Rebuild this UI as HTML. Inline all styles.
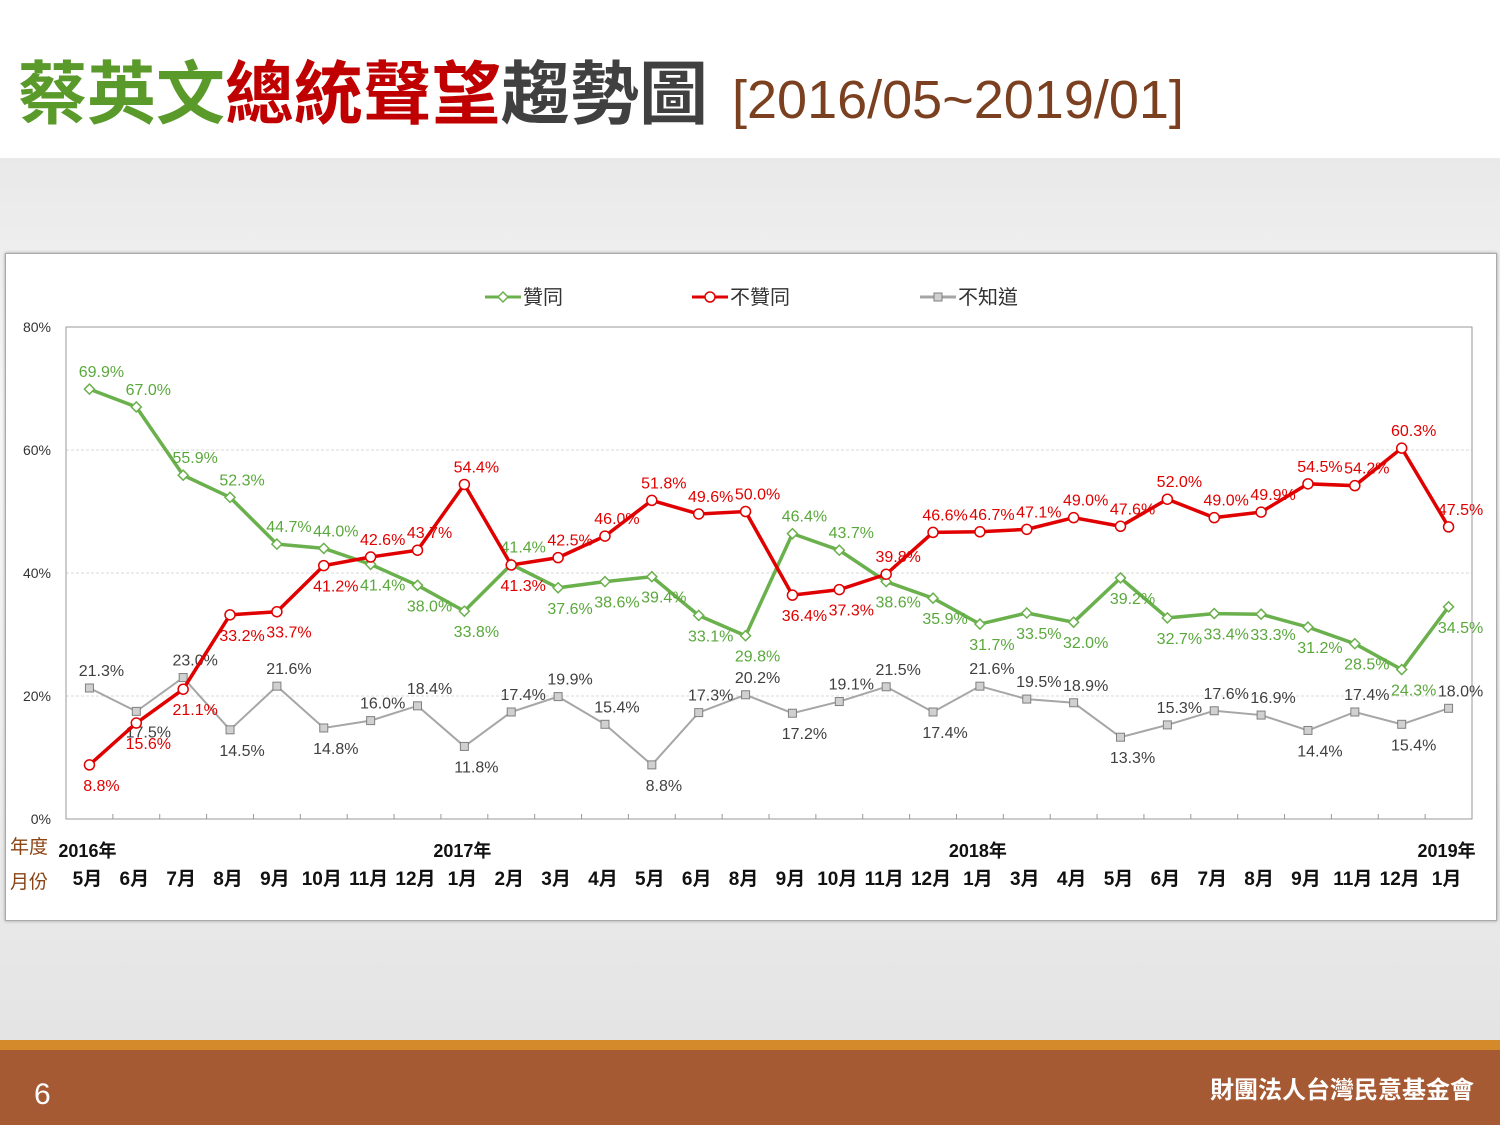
<!DOCTYPE html>
<html><head><meta charset="utf-8">
<style>
body{margin:0;width:1500px;height:1125px;position:relative;overflow:hidden;background:#fff;font-family:"Liberation Sans","Noto Sans CJK TC",sans-serif;}
#band{position:absolute;left:0;top:158px;width:1500px;height:882px;background:linear-gradient(#e9e9e9,#f7f7f7 30%,#ededed 70%,#e4e4e4);}
#title{position:absolute;left:18px;top:38px;font-size:69px;font-weight:bold;white-space:nowrap;font-family:"Liberation Sans","Noto Sans CJK TC",sans-serif;}
#title .d{font-size:54px;color:#7b4020;font-weight:normal;margin-left:24px;}
#box{position:absolute;left:5px;top:253px;width:1490px;height:666px;background:#fff;border:1px solid #aaa;box-shadow:0 0 3px #999;}
#foot{position:absolute;left:0;top:1040px;width:1500px;height:85px;background:#a65a33;border-top:10px solid #d48a2a;box-sizing:border-box;color:#fff;}
svg text{font-family:"Liberation Sans","Noto Sans CJK TC",sans-serif;}
</style></head><body>
<div id="band"></div>
<div id="title"><span style="color:#5a9a2a">蔡英文</span><span style="color:#c00000">總統聲望</span><span style="color:#404040">趨勢圖</span><span class="d">[2016/05~2019/01]</span></div>
<div id="box"></div>
<svg id="chart" width="1500" height="1125" style="position:absolute;left:0;top:0"></svg>
<div id="foot">
<span style="position:absolute;left:34px;top:28px;font-size:30px">6</span>
<span style="position:absolute;right:26px;top:20px;font-size:24px;font-weight:bold">財團法人台灣民意基金會</span>
</div>
<script>
const months=["5月","6月","7月","8月","9月","10月","11月","12月","1月","2月","3月","4月","5月","6月","8月","9月","10月","11月","12月","1月","3月","4月","5月","6月","7月","8月","9月","11月","12月","1月"];
const years={0:"2016年",8:"2017年",19:"2018年",29:"2019年"};
const approve=[69.9,67.0,55.9,52.3,44.7,44.0,41.4,38.0,33.8,41.4,37.6,38.6,39.4,33.1,29.8,46.4,43.7,38.6,35.9,31.7,33.5,32.0,39.2,32.7,33.4,33.3,31.2,28.5,24.3,34.5];
const disapprove=[8.8,15.6,21.1,33.2,33.7,41.2,42.6,43.7,54.4,41.3,42.5,46.0,51.8,49.6,50.0,36.4,37.3,39.8,46.6,46.7,47.1,49.0,47.6,52.0,49.0,49.9,54.5,54.2,60.3,47.5];
const unknown=[21.3,17.5,23.0,14.5,21.6,14.8,16.0,18.4,11.8,17.4,19.9,15.4,8.8,17.3,20.2,17.2,19.1,21.5,17.4,21.6,19.5,18.9,13.3,15.3,17.6,16.9,14.4,17.4,15.4,18.0];
const yTicks=[0,20,40,60,80];
const svg=document.getElementById('chart');const NS="http://www.w3.org/2000/svg";
const L=66,R=1472,T=327,B=819,n=months.length;
const x=i=>L+(i+0.5)*(R-L)/n;
const y=v=>B-(v/80)*(B-T);
function mk(tag,at,txt){const e=document.createElementNS(NS,tag);for(const k in at)e.setAttribute(k,at[k]);if(txt!=null)e.textContent=txt;svg.appendChild(e);return e;}
yTicks.forEach(t=>{
 if(t>0){const g=mk('line',{x1:L,x2:R,y1:y(t),y2:y(t),stroke:'#d9d9d9','stroke-dasharray':'3,2'});
 
 }
 const tl=mk('text',{x:51,y:y(t)+5,'font-size':14,'text-anchor':'end',fill:'#333'},t+'%');
 
 
});
const pa=mk('rect',{x:L,y:T,width:R-L,height:B-T,fill:'none',stroke:'#999'});


for(let i=1;i<n;i++){const tk=mk('line',{x1:L+i*(R-L)/n,x2:L+i*(R-L)/n,y1:B,y2:B-5,stroke:'#999'});

}
months.forEach((m,i)=>{const t=mk('text',{x:x(i)-2,y:885,'font-size':19,'font-weight':'bold','text-anchor':'middle',fill:'#111'},m);


if(years[i]){const yy=mk('text',{x:x(i)-2,y:857,'font-size':18,'font-weight':'bold','text-anchor':'middle',fill:'#111'},years[i]);

}});
const a1=mk('text',{x:10,y:853,'font-size':19,fill:'#8b4513'},'年度');


const a2=mk('text',{x:10,y:888,'font-size':19,fill:'#8b4513'},'月份');


function series(data,color,txtColor,name,marker,lw,above){
 const p=mk('polyline',{points:data.map((v,i)=>x(i)+','+y(v)).join(' '),fill:'none',stroke:color,'stroke-width':lw});
 
 
 data.forEach((v,i)=>{let m;
  if(marker=='c')m=mk('circle',{cx:x(i),cy:y(v),r:5,fill:'#fff',stroke:color,'stroke-width':1.5});
  else if(marker=='d')m=mk('polygon',{points:`${x(i)},${y(v)-5} ${x(i)+5},${y(v)} ${x(i)},${y(v)+5} ${x(i)-5},${y(v)}`,fill:'#fff',stroke:color,'stroke-width':1.5});
  else m=mk('rect',{x:x(i)-4,y:y(v)-4,width:8,height:8,fill:'#d0d0d0',stroke:'#808080'});
  
  
  const up=above(v,i);
  const t=mk('text',{x:x(i)+12,y:y(v)+(up?-12:26),'font-size':16,'text-anchor':'middle',fill:txtColor},v.toFixed(1)+'%');
  
  
 });
}
series(unknown,'#a6a6a6','#404040','unknown','x',2,(v,i)=>{const a=unknown[i-1]??unknown[i+1],b=unknown[i+1]??unknown[i-1];return v>=Math.min(a,b);});
series(approve,'#6ab04c','#5aa83c','approve','d',3.5,(v,i)=>v>=disapprove[i]);
series(disapprove,'#e00000','#e00000','disapprove','c',3.5,(v,i)=>v>approve[i]);
const lg=[['贊同','#6ab04c','d',485],['不贊同','#e00000','c',692],['不知道','#a6a6a6','x',920]];
lg.forEach(([t,c,m,lx])=>{
 const l=mk('line',{x1:lx,x2:lx+36,y1:297,y2:297,stroke:c,'stroke-width':3});
 
 
 let k;
 if(m=='c')k=mk('circle',{cx:lx+18,cy:297,r:5,fill:'#fff',stroke:c,'stroke-width':1.5});
 else if(m=='d')k=mk('polygon',{points:`${lx+18},292 ${lx+23},297 ${lx+18},302 ${lx+13},297`,fill:'#fff',stroke:c,'stroke-width':1.5});
 else k=mk('rect',{x:lx+14,y:293,width:8,height:8,fill:'#d0d0d0',stroke:'#808080'});
 
 
 const tx=mk('text',{x:lx+38,y:304,'font-size':20,fill:'#333'},t);
 
 
});
</script>
</body></html>
